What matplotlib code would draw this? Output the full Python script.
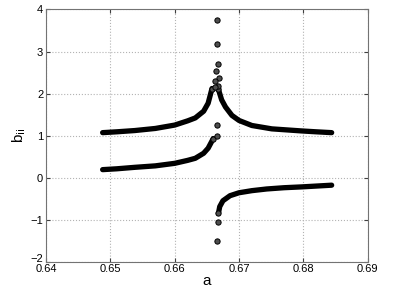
import matplotlib
matplotlib.use('Agg')
import matplotlib.pyplot as plt
import matplotlib.transforms as mtransforms
import numpy as np

plt.rcParams['font.family'] = ['Liberation Sans', 'DejaVu Sans']

# upper branch, left and right of the resonance
up_left_a = [0.6488, 0.6510, 0.6538, 0.6570, 0.6600, 0.6620, 0.6632, 0.6645, 0.6652, 0.6658]
up_left_b = [1.07, 1.09, 1.12, 1.17, 1.25, 1.35, 1.42, 1.58, 1.77, 2.12]
up_right_a = [0.6668, 0.6673, 0.6679, 0.6689, 0.6700, 0.6720, 0.6751, 0.6798, 0.6820, 0.6844]
up_right_b = [2.10, 1.85, 1.68, 1.48, 1.36, 1.24, 1.16, 1.11, 1.09, 1.07]

# lower branches
lo_left_a = [0.6488, 0.6510, 0.6538, 0.6570, 0.6600, 0.6620, 0.6632, 0.6645, 0.6652, 0.6660]
lo_left_b = [0.19, 0.21, 0.245, 0.28, 0.34, 0.41, 0.46, 0.58, 0.70, 0.93]
lo_right_a = [0.6668, 0.6670, 0.6675, 0.6686, 0.6700, 0.6720, 0.6743, 0.6770, 0.6798, 0.6844]
lo_right_b = [-0.85, -0.69, -0.55, -0.43, -0.36, -0.31, -0.27, -0.24, -0.22, -0.18]

# scattered points close to a = 2/3
peak_a = [0.66653, 0.66653, 0.66678, 0.66637, 0.66689, 0.66626, 0.66680, 0.66620,
          0.66660, 0.66650, 0.66660, 0.66668]
peak_b = [3.75, 3.17, 2.70, 2.54, 2.36, 2.30, 2.19, 2.15,
          1.25, 0.99, -1.50, -1.05]

fig = plt.figure(figsize=(4.09, 2.92), dpi=100)
ax = fig.add_axes([0.1125, 0.1038, 0.7865, 0.8637])

for xa, yb in [(up_left_a, up_left_b), (up_right_a, up_right_b),
               (lo_left_a, lo_left_b), (lo_right_a, lo_right_b)]:
    ax.plot(xa, yb, '-', color='black', lw=3.8, solid_capstyle='round')
    # band end near the resonance
    ax.plot(xa[-1:] if xa[0] < 0.666 else xa[:1], yb[-1:] if xa[0] < 0.666 else yb[:1],
            'o', ms=3.8, mfc='0.3', mec='black', mew=0.7)
ax.plot(peak_a, peak_b, 'o', ms=3.8, mfc='0.3', mec='black', mew=0.7, ls='none')

ax.set_xlim(0.64, 0.69)
ax.set_ylim(-2, 4)
ax.set_xticks([0.64, 0.65, 0.66, 0.67, 0.68, 0.69])
ax.set_xticklabels(['0.64', '0.65', '0.66', '0.67', '0.68', '0.69'])
ax.set_yticks([-2, -1, 0, 1, 2, 3, 4])
ax.set_yticklabels(['\u22122', '\u22121', '0', '1', '2', '3', '4'])
ax.grid(True, ls=':', color='0.7', lw=0.8)
ax.tick_params(direction='in', top=True, right=True, labelsize=8, length=3, pad=2, colors='0.25')
ax.tick_params(labelcolor='black')
for s in ax.spines.values():
    s.set_color('0.45')
ax.set_xlabel('a', fontsize=11, labelpad=0)
ax.set_ylabel('b$_{\\rm ii}$', fontsize=11, labelpad=2)

# lift the lowest y label a little, as in the original
lbl = ax.get_yticklabels()[0]
lbl.set_transform(lbl.get_transform() + mtransforms.ScaledTranslation(0, 3 / 72, fig.dpi_scale_trans))

fig.savefig('out.png', dpi=100)
